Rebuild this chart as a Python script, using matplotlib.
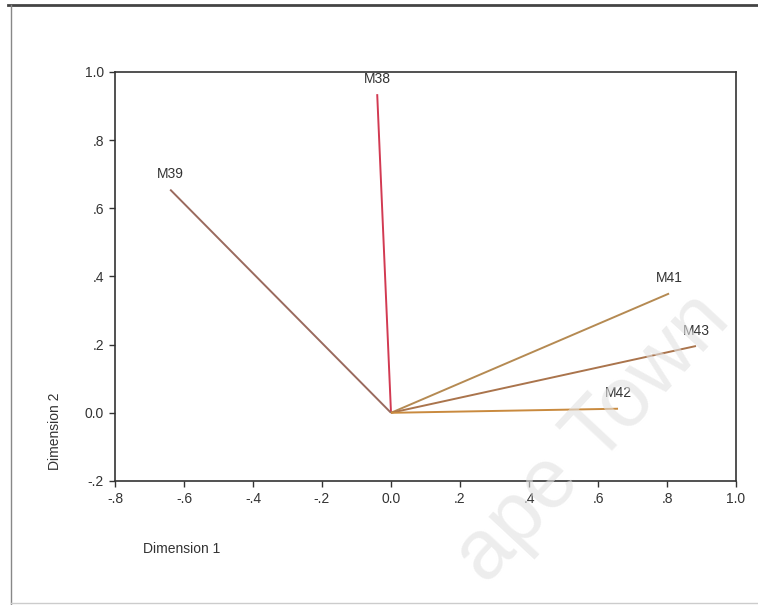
import matplotlib
matplotlib.use("Agg")
import matplotlib.pyplot as plt
from matplotlib.lines import Line2D

plt.rcParams['font.family'] = ['Liberation Sans', 'DejaVu Sans']

# component loadings
names = ["M38", "M39", "M41", "M43", "M42"]
dim1 = [-0.04, -0.64, 0.806, 0.884, 0.658]
dim2 = [0.935, 0.655, 0.35, 0.196, 0.012]
cols = ["#d23a52", "#9a6a5e", "#b58a52", "#aa744c", "#c98a3e"]

xticks = [-0.8, -0.6, -0.4, -0.2, 0.0, 0.2, 0.4, 0.6, 0.8, 1.0]
xlabs = ["-.8", "-.6", "-.4", "-.2", "0.0", ".2", ".4", ".6", ".8", "1.0"]
yticks = [-0.2, 0.0, 0.2, 0.4, 0.6, 0.8, 1.0]
ylabs = ["-.2", "0.0", ".2", ".4", ".6", ".8", "1.0"]

fig = plt.figure(figsize=(7.58, 6.05), dpi=100)
ax = fig.add_axes([0.1517, 0.205, 0.8193, 0.676])

for nm, x, y, c in zip(names, dim1, dim2, cols):
    ax.plot([0, x], [0, y], color=c, lw=1.4, solid_capstyle='butt')
    ax.annotate(nm, (x, y), xytext=(0, 6), textcoords='offset points',
                ha='center', va='bottom', fontsize=10, color='#333333')

ax.set_xlim(-0.8, 1.0)
ax.set_ylim(-0.2, 1.0)
ax.set_xticks(xticks)
ax.set_xticklabels(xlabs)
ax.set_yticks(yticks)
ax.set_yticklabels(ylabs)
ax.tick_params(direction='out', length=4, width=1, labelsize=10,
               colors='#333333', pad=4)
for s in ax.spines.values():
    s.set_linewidth(1.2)
    s.set_color('#333333')

fig.text(0.188, 0.093, "Dimension 1", fontsize=10, color='#333333', va='center')
fig.text(0.073, 0.287, "Dimension 2", fontsize=10, color='#333333',
         rotation=90, ha='center', va='center')

# outer frame of the scanned page
fig.add_artist(Line2D([0.01, 1.0], [0.992, 0.992], transform=fig.transFigure,
                      color='#444444', lw=2))
fig.add_artist(Line2D([0.015, 0.015], [0.0, 0.992], transform=fig.transFigure,
                      color='#888888', lw=1))
fig.add_artist(Line2D([0.015, 1.0], [0.004, 0.004], transform=fig.transFigure,
                      color='#cccccc', lw=1))

# watermark (the part visible on the scan)
fig.text(0.782, 0.275, "ape Town", fontsize=61, color='#e2e2e2', alpha=0.6,
         rotation=47, ha='center', va='center')

fig.savefig("out.png", dpi=100)
